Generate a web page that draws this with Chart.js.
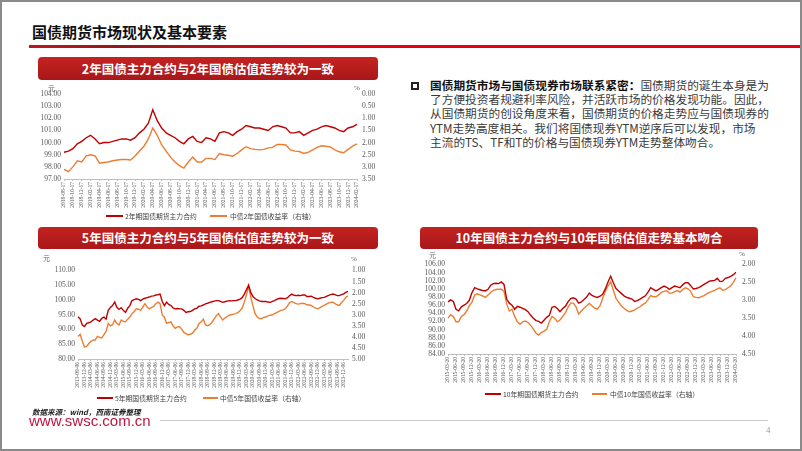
<!DOCTYPE html>
<html>
<head>
<meta charset="utf-8">
<script src="https://cdn.jsdelivr.net/npm/chart.js@4.4.1/dist/chart.umd.min.js"></script>
<style>
html, body { margin: 0; padding: 0; background: #fff; }
#slide { position: relative; width: 802px; height: 451px; overflow: hidden; font-family: "Noto Sans CJK SC", sans-serif; }
#frame { position: absolute; left: 0; top: 0; width: 802px; height: 451px; box-sizing: border-box; border: 2px solid #8a8a8a; pointer-events: none; }
.abs { position: absolute; white-space: nowrap; }
.title { left: 32px; top: 23px; font-size: 15px; font-weight: bold; color: #111; line-height: 18px; }
.rule { left: 29px; top: 45px; width: 773px; height: 3px; background: linear-gradient(to right, #c4161c 0%, #8e1a1a 12%, #b5141b 22%, #e60012 40%, #e60012 100%); }
.banner { height: 23px; line-height: 23px; border-radius: 4px; color: #fff; font-size: 12.5px; font-weight: bold; text-align: center; background: linear-gradient(#c42320, #a9171a); }
.unit { font-size: 7px; color: #595959; font-family: "Liberation Serif", serif; }
.lg { font-size: 6.8px; line-height: 8px; color: #404040; }
.lgline { height: 2px; }
.txt { left: 430px; top: 78px; font-size: 11.7px; line-height: 14.2px; color: #3a3a3a; }
.txt b { color: #111; }
.bullet { left: 411px; top: 82px; width: 4px; height: 4px; border: 2px solid #222; }
canvas { position: absolute; }
</style>
</head>
<body>
<div id="slide">
  <div class="abs title">国债期货市场现状及基本要素</div>
  <div class="abs rule"></div>

  <div class="abs banner" style="left:38px;top:57px;width:340px;">2年国债主力合约与2年国债估值走势较为一致</div>
  <div class="abs banner" style="left:38px;top:227px;width:340px;height:22px;line-height:22px;">5年国债主力合约与5年国债估值走势较为一致</div>
  <div class="abs banner" style="left:420px;top:227px;width:338px;height:22px;line-height:22px;">10年国债主力合约与10年国债估值走势基本吻合</div>

  <canvas id="c2y" width="362" height="128" style="left:30px;top:84px;"></canvas>
  <canvas id="c5y" width="362" height="131" style="left:30px;top:262px;"></canvas>
  <canvas id="c10y" width="362" height="132" style="left:412px;top:254px;"></canvas>

  <div class="abs unit" style="left:48px;top:84px;">元</div>
  <div class="abs unit" style="left:354px;top:84px;">%</div>
  <div class="abs unit" style="left:43px;top:254px;">元</div>
  <div class="abs unit" style="left:351px;top:255px;">%</div>
  <div class="abs unit" style="left:429px;top:251px;">元</div>
  <div class="abs unit" style="left:739px;top:250px;">%</div>

  <div class="abs lgline" style="left:106px;top:215px;width:17px;background:#c00000;"></div>
  <div class="abs lg" style="left:125px;top:212px;">2年期国债期货主力合约</div>
  <div class="abs lgline" style="left:210px;top:215px;width:17px;background:#ed7d31;"></div>
  <div class="abs lg" style="left:230px;top:212px;">中债2年国债收益率（右轴）</div>

  <div class="abs lgline" style="left:97px;top:397px;width:16px;background:#c00000;"></div>
  <div class="abs lg" style="left:115px;top:394px;">5年期国债期货主力合约</div>
  <div class="abs lgline" style="left:203px;top:397px;width:15px;background:#ed7d31;"></div>
  <div class="abs lg" style="left:220px;top:394px;">中债5年国债收益率（右轴）</div>

  <div class="abs lgline" style="left:485px;top:393px;width:16px;background:#c00000;"></div>
  <div class="abs lg" style="left:503px;top:390px;">10年期国债期货主力合约</div>
  <div class="abs lgline" style="left:592px;top:393px;width:15px;background:#ed7d31;"></div>
  <div class="abs lg" style="left:610px;top:390px;">中债10年国债收益率（右轴）</div>

  <div class="abs bullet"></div>
  <div class="abs txt"><b>国债期货市场与国债现券市场联系紧密：</b>国债期货的诞生本身是为<br>了方便投资者规避利率风险，并活跃市场的价格发现功能。因此，<br>从国债期货的创设角度来看，国债期货的价格走势应与国债现券的<br>YTM走势高度相关。我们将国债现券YTM逆序后可以发现，市场<br>主流的TS、TF和T的价格与国债现券YTM走势整体吻合。</div>

  <div class="abs" style="left:32px;top:406px;font-size:7.5px;font-style:italic;font-weight:600;color:#222;">数据来源：wind，西南证券整理</div>
  <div class="abs" style="left:29px;top:413px;font-size:15px;line-height:15px;font-family:'Liberation Sans',Arial,sans-serif;color:#c0143c;">www.swsc.com.cn</div>
  <div class="abs" style="left:160px;top:420px;width:608px;height:1px;background:#c8c8c8;"></div>
  <div class="abs" style="left:766px;top:425px;font-size:9px;color:#999;font-family:'Liberation Serif',serif;">4</div>
  <div id="frame"></div>
</div>

<script>
// 2年期 TS (2018-08 ~ 2024-02, 月度)
const dates2y = [
  '2018-08-17','2018-09-17','2018-10-17','2018-11-17','2018-12-17',
  '2019-01-17','2019-02-17','2019-03-17','2019-04-17','2019-05-17','2019-06-17','2019-07-17','2019-08-17','2019-09-17','2019-10-17','2019-11-17','2019-12-17',
  '2020-01-17','2020-02-17','2020-03-17','2020-04-17','2020-05-17','2020-06-17','2020-07-17','2020-08-17','2020-09-17','2020-10-17','2020-11-17','2020-12-17',
  '2021-01-17','2021-02-17','2021-03-17','2021-04-17','2021-05-17','2021-06-17','2021-07-17','2021-08-17','2021-09-17','2021-10-17','2021-11-17','2021-12-17',
  '2022-01-17','2022-02-17','2022-03-17','2022-04-17','2022-05-17','2022-06-17','2022-07-17','2022-08-17','2022-09-17','2022-10-17','2022-11-17','2022-12-17',
  '2023-01-17','2023-02-17','2023-03-17','2023-04-17','2023-05-17','2023-06-17','2023-07-17','2023-08-17','2023-09-17','2023-10-17','2023-11-17','2023-12-17',
  '2024-01-17','2024-02-17'
];
const price2y = [
  99.2, 99.3, 99.5, 99.9, 100.1, 100.4, 100.6, 100.3, 99.9, 100.0,
  100.0, 100.1, 100.2, 100.3, 100.3, 100.2, 100.4, 100.8, 101.1, 101.6,
  102.7, 101.8, 101.2, 100.8, 100.6, 100.4, 100.1, 99.9, 100.3, 100.5,
  100.1, 100.0, 100.4, 100.3, 100.1, 100.8, 100.9, 100.8, 100.6, 100.9,
  101.1, 101.4, 101.3, 101.2, 101.2, 101.1, 101.0, 101.3, 101.4, 101.3,
  101.2, 100.8, 100.8, 100.9, 100.6, 100.8, 101.0, 101.1, 101.3, 101.4,
  101.3, 101.2, 101.0, 100.9, 101.2, 101.3, 101.5
];
const yield2y = [
  3.10, 3.20, 3.00, 2.75, 2.80, 2.55, 2.50, 2.55, 2.85, 2.82,
  2.80, 2.75, 2.72, 2.70, 2.70, 2.72, 2.55, 2.35, 2.15, 1.85,
  1.40, 1.70, 2.10, 2.35, 2.60, 2.80, 2.95, 3.05, 2.80, 2.60,
  2.80, 2.80, 2.65, 2.65, 2.70, 2.45, 2.50, 2.52, 2.56, 2.45,
  2.30, 2.17, 2.25, 2.28, 2.30, 2.28, 2.22, 2.20, 2.08, 2.08,
  2.10, 2.30, 2.35, 2.37, 2.45, 2.40, 2.30, 2.20, 2.13, 2.15,
  2.18, 2.30, 2.38, 2.42, 2.28, 2.15, 2.05
];
const leftTicks2y = [97, 98, 99, 100, 101, 102, 103, 104];
const rightTicks2y = [0, 0.5, 1, 1.5, 2, 2.5, 3, 3.5];

// 5年期 TF (2013-09 ~ 2024-02, 月度)
const dates5y = [
  '2013-09-06','2013-10-06','2013-11-06','2013-12-06',
  '2014-01-06','2014-02-06','2014-03-06','2014-04-06','2014-05-06','2014-06-06','2014-07-06','2014-08-06','2014-09-06','2014-10-06','2014-11-06','2014-12-06',
  '2015-01-06','2015-02-06','2015-03-06','2015-04-06','2015-05-06','2015-06-06','2015-07-06','2015-08-06','2015-09-06','2015-10-06','2015-11-06','2015-12-06',
  '2016-01-06','2016-02-06','2016-03-06','2016-04-06','2016-05-06','2016-06-06','2016-07-06','2016-08-06','2016-09-06','2016-10-06','2016-11-06','2016-12-06',
  '2017-01-06','2017-02-06','2017-03-06','2017-04-06','2017-05-06','2017-06-06','2017-07-06','2017-08-06','2017-09-06','2017-10-06','2017-11-06','2017-12-06',
  '2018-01-06','2018-02-06','2018-03-06','2018-04-06','2018-05-06','2018-06-06','2018-07-06','2018-08-06','2018-09-06','2018-10-06','2018-11-06','2018-12-06',
  '2019-01-06','2019-02-06','2019-03-06','2019-04-06','2019-05-06','2019-06-06','2019-07-06','2019-08-06','2019-09-06','2019-10-06','2019-11-06','2019-12-06',
  '2020-01-06','2020-02-06','2020-03-06','2020-04-06','2020-05-06','2020-06-06','2020-07-06','2020-08-06','2020-09-06','2020-10-06','2020-11-06','2020-12-06',
  '2021-01-06','2021-02-06','2021-03-06','2021-04-06','2021-05-06','2021-06-06','2021-07-06','2021-08-06','2021-09-06','2021-10-06','2021-11-06','2021-12-06',
  '2022-01-06','2022-02-06','2022-03-06','2022-04-06','2022-05-06','2022-06-06','2022-07-06','2022-08-06','2022-09-06','2022-10-06','2022-11-06','2022-12-06',
  '2023-01-06','2023-02-06','2023-03-06','2023-04-06','2023-05-06','2023-06-06','2023-07-06','2023-08-06','2023-09-06','2023-10-06','2023-11-06','2023-12-06',
  '2024-01-06','2024-02-06'
];
const price5y = [
  94.3, 93.6, 91.5, 91.0, 92.1, 92.3, 92.6, 93.2, 93.7, 93.2,
  92.8, 93.8, 94.2, 93.5, 96.5, 97.5, 98.1, 99.3, 97.5, 96.8,
  97.4, 96.5, 95.8, 97.2, 98.1, 99.8, 100.1, 100.4, 100.2, 99.8,
  100.3, 100.6, 100.8, 101.0, 101.3, 101.4, 101.7, 101.8, 102.0, 99.5,
  98.1, 99.3, 98.5, 98.1, 97.3, 97.0, 97.1, 97.0, 97.0, 96.5,
  95.8, 96.0, 96.1, 96.5, 97.0, 97.2, 97.9, 98.0, 98.3, 98.7,
  98.9, 99.2, 99.4, 99.6, 99.8, 99.8, 99.5, 99.2, 99.4, 99.6,
  99.8, 99.7, 99.8, 99.8, 100.0, 100.3, 100.8, 102.0, 103.5, 105.0,
  102.5, 101.2, 100.5, 100.0, 99.7, 99.5, 99.5, 99.5, 99.3, 99.2,
  99.5, 99.8, 100.2, 100.5, 100.6, 100.5, 100.4, 100.8, 101.5, 102.0,
  101.6, 101.5, 101.6, 101.5, 101.7, 101.7, 101.2, 101.2, 101.3, 100.9,
  100.6, 100.4, 100.6, 100.8, 100.9, 101.2, 101.6, 101.8, 102.0, 101.8,
  101.5, 101.5, 101.8, 102.1, 102.6, 102.9
];
const yield5y = [
  3.98, 3.88, 4.20, 4.45, 4.43, 4.30, 4.20, 4.15, 4.13, 3.98,
  4.02, 4.05, 3.90, 3.75, 3.39, 3.50, 3.45, 3.24, 3.40, 3.46,
  3.24, 3.30, 3.32, 3.20, 3.10, 2.95, 2.85, 2.73, 2.75, 2.80,
  2.65, 2.50, 2.65, 2.73, 2.67, 2.63, 2.50, 2.43, 2.50, 3.02,
  3.10, 3.39, 3.35, 3.32, 3.50, 3.61, 3.55, 3.54, 3.65, 3.80,
  3.85, 3.90, 3.88, 3.83, 3.70, 3.61, 3.40, 3.32, 3.20, 3.45,
  3.50, 3.45, 3.35, 3.20, 3.05, 2.95, 3.10, 3.24, 3.15, 3.08,
  3.02, 3.00, 2.97, 2.95, 2.90, 2.82, 2.70, 2.43, 2.10, 1.70,
  2.20, 2.60, 2.95, 3.10, 3.17, 3.17, 3.12, 3.10, 3.05, 3.02,
  3.00, 2.95, 2.90, 2.85, 2.80, 2.78, 2.73, 2.60, 2.45, 2.40,
  2.45, 2.50, 2.52, 2.50, 2.48, 2.50, 2.55, 2.56, 2.58, 2.65,
  2.70, 2.73, 2.68, 2.62, 2.58, 2.52, 2.46, 2.44, 2.43, 2.50,
  2.55, 2.58, 2.45, 2.35, 2.21, 2.15
];
const leftTicks5y = [80, 85, 90, 95, 100, 105, 110];
const rightTicks5y = [1, 1.5, 2, 2.5, 3, 3.5, 4, 4.5, 5];

// 10年期 T (2015-03 ~ 2024-03, 月度)
const dates10y = [
  '2015-03-20','2015-04-20','2015-05-20','2015-06-20','2015-07-20','2015-08-20','2015-09-20','2015-10-20','2015-11-20','2015-12-20',
  '2016-01-20','2016-02-20','2016-03-20','2016-04-20','2016-05-20','2016-06-20','2016-07-20','2016-08-20','2016-09-20','2016-10-20','2016-11-20','2016-12-20',
  '2017-01-20','2017-02-20','2017-03-20','2017-04-20','2017-05-20','2017-06-20','2017-07-20','2017-08-20','2017-09-20','2017-10-20','2017-11-20','2017-12-20',
  '2018-01-20','2018-02-20','2018-03-20','2018-04-20','2018-05-20','2018-06-20','2018-07-20','2018-08-20','2018-09-20','2018-10-20','2018-11-20','2018-12-20',
  '2019-01-20','2019-02-20','2019-03-20','2019-04-20','2019-05-20','2019-06-20','2019-07-20','2019-08-20','2019-09-20','2019-10-20','2019-11-20','2019-12-20',
  '2020-01-20','2020-02-20','2020-03-20','2020-04-20','2020-05-20','2020-06-20','2020-07-20','2020-08-20','2020-09-20','2020-10-20','2020-11-20','2020-12-20',
  '2021-01-20','2021-02-20','2021-03-20','2021-04-20','2021-05-20','2021-06-20','2021-07-20','2021-08-20','2021-09-20','2021-10-20','2021-11-20','2021-12-20',
  '2022-01-20','2022-02-20','2022-03-20','2022-04-20','2022-05-20','2022-06-20','2022-07-20','2022-08-20','2022-09-20','2022-10-20','2022-11-20','2022-12-20',
  '2023-01-20','2023-02-20','2023-03-20','2023-04-20','2023-05-20','2023-06-20','2023-07-20','2023-08-20','2023-09-20','2023-10-20','2023-11-20','2023-12-20',
  '2024-01-20','2024-02-20','2024-03-20'
];
const price10y = [
  96.8, 97.3, 96.9, 95.0, 94.6, 95.6, 96.0, 96.4, 97.2, 99.1,
  100.3, 100.0, 99.8, 99.6, 99.5, 99.9, 100.9, 101.3, 101.4, 101.3,
  101.7, 101.1, 97.5, 96.5, 96.0, 95.0, 95.7, 95.5, 95.2, 94.9,
  94.4, 93.5, 92.8, 92.2, 92.0, 91.6, 92.3, 93.0, 93.5, 95.5,
  95.7, 95.2, 94.4, 95.2, 95.7, 96.8, 97.6, 97.8, 97.5, 96.5,
  96.8, 97.4, 98.0, 99.0, 98.4, 98.1, 97.9, 98.2, 98.7, 100.0,
  101.7, 103.1, 101.5, 100.1, 99.5, 98.9, 98.3, 97.9, 97.7, 97.5,
  96.9, 97.1, 97.5, 97.9, 98.3, 99.2, 100.3, 99.9, 99.5, 99.9,
  100.3, 100.7, 100.4, 99.9, 100.3, 100.7, 100.5, 100.3, 101.0, 101.5,
  101.5, 100.8, 100.0, 100.1, 100.3, 100.7, 101.1, 101.5, 101.9, 102.0,
  102.1, 102.6, 101.8, 101.9, 102.6, 102.8, 103.1, 103.5, 104.1
];
const yield10y = [
  3.50, 3.40, 3.45, 3.60, 3.60, 3.45, 3.40, 3.30, 3.15, 3.05,
  2.85, 2.82, 2.85, 2.88, 2.92, 2.85, 2.78, 2.72, 2.70, 2.69,
  2.69, 2.75, 3.10, 3.30, 3.25, 3.45, 3.60, 3.67, 3.60, 3.58,
  3.62, 3.70, 3.80, 3.92, 3.97, 3.90, 3.86, 3.81, 3.60, 3.45,
  3.50, 3.60, 3.55, 3.45, 3.35, 3.20, 3.08, 3.08, 3.18, 3.38,
  3.30, 3.22, 3.15, 3.09, 3.15, 3.22, 3.25, 3.15, 2.95, 2.75,
  2.60, 2.48, 2.72, 2.95, 3.05, 3.15, 3.22, 3.28, 3.32, 3.30,
  3.27, 3.22, 3.18, 3.12, 3.08, 2.98, 2.87, 2.90, 2.90, 2.85,
  2.78, 2.75, 2.73, 2.80, 2.80, 2.76, 2.73, 2.77, 2.70, 2.65,
  2.68, 2.75, 2.90, 2.92, 2.93, 2.90, 2.87, 2.82, 2.78, 2.75,
  2.72, 2.68, 2.65, 2.72, 2.70, 2.65, 2.60, 2.50, 2.37
];
const leftTicks10y = [84, 86, 88, 90, 92, 94, 96, 98, 100, 102, 104, 106];
const rightTicks10y = [2, 2.5, 3, 3.5, 4, 4.5];

const RED = '#c00000';
const ORANGE = '#ed7d31';
const tickFont = { family: 'Liberation Serif', size: 7.5 };

function makeChart(id, labels, price, yld, lTicks, rTicks, o) {
  const ctx = document.getElementById(id).getContext('2d');
  return new Chart(ctx, {
    type: 'line',
    data: {
      labels: labels,
      datasets: [
        { label: 'price', data: price, borderColor: RED, borderWidth: 1.4, pointRadius: 0, tension: 0, yAxisID: 'y' },
        { label: 'yield', data: yld, borderColor: ORANGE, borderWidth: 1.4, pointRadius: 0, tension: 0, yAxisID: 'y1' }
      ]
    },
    options: {
      responsive: false,
      animation: false,
      devicePixelRatio: 1,
      layout: { padding: { top: o.padTop, left: 0, right: 0, bottom: 0 } },
      plugins: { legend: { display: false }, tooltip: { enabled: false } },
      scales: {
        x: {
          grid: { display: true, drawOnChartArea: false, drawTicks: true, tickLength: 2, color: '#bfbfbf' },
          border: { display: true, color: '#bfbfbf' },
          ticks: { autoSkip: false, minRotation: 90, maxRotation: 90, padding: 1, color: '#595959', font: { family: 'Liberation Serif', size: 5.5 } },
          afterBuildTicks: s => { s.ticks = s.ticks.filter((t, i) => i % o.every === 0); },
          afterFit: s => { s.height = o.xH; }
        },
        y: {
          position: 'left', min: lTicks[0], max: lTicks[lTicks.length - 1],
          grid: { display: false, drawTicks: false }, border: { display: false },
          ticks: { autoSkip: false, padding: 3, color: '#595959', font: tickFont, callback: v => Number(v).toFixed(2) },
          afterBuildTicks: s => { s.ticks = lTicks.map(v => ({ value: v })); },
          afterFit: s => { s.width = o.lW; }
        },
        y1: {
          position: 'right', reverse: true, min: rTicks[0], max: rTicks[rTicks.length - 1],
          grid: { display: false, drawTicks: false }, border: { display: false },
          ticks: { autoSkip: false, padding: o.rPad, color: '#595959', font: tickFont, callback: v => Number(v).toFixed(2) },
          afterBuildTicks: s => { s.ticks = rTicks.map(v => ({ value: v })); },
          afterFit: s => { s.width = o.rW; }
        }
      }
    }
  });
}

makeChart('c2y', dates2y, price2y, yield2y, leftTicks2y, rightTicks2y, { lW: 34, rW: 35, rPad: 5, padTop: 10, xH: 33, every: 2 });
makeChart('c5y', dates5y, price5y, yield5y, leftTicks5y, rightTicks5y, { lW: 48, rW: 44, rPad: 4, padTop: 7, xH: 34, every: 3 });
makeChart('c10y', dates10y, price10y, yield10y, leftTicks10y, rightTicks10y, { lW: 36, rW: 38, rPad: 6, padTop: 7, xH: 32, every: 3 });
</script>
</body>
</html>
